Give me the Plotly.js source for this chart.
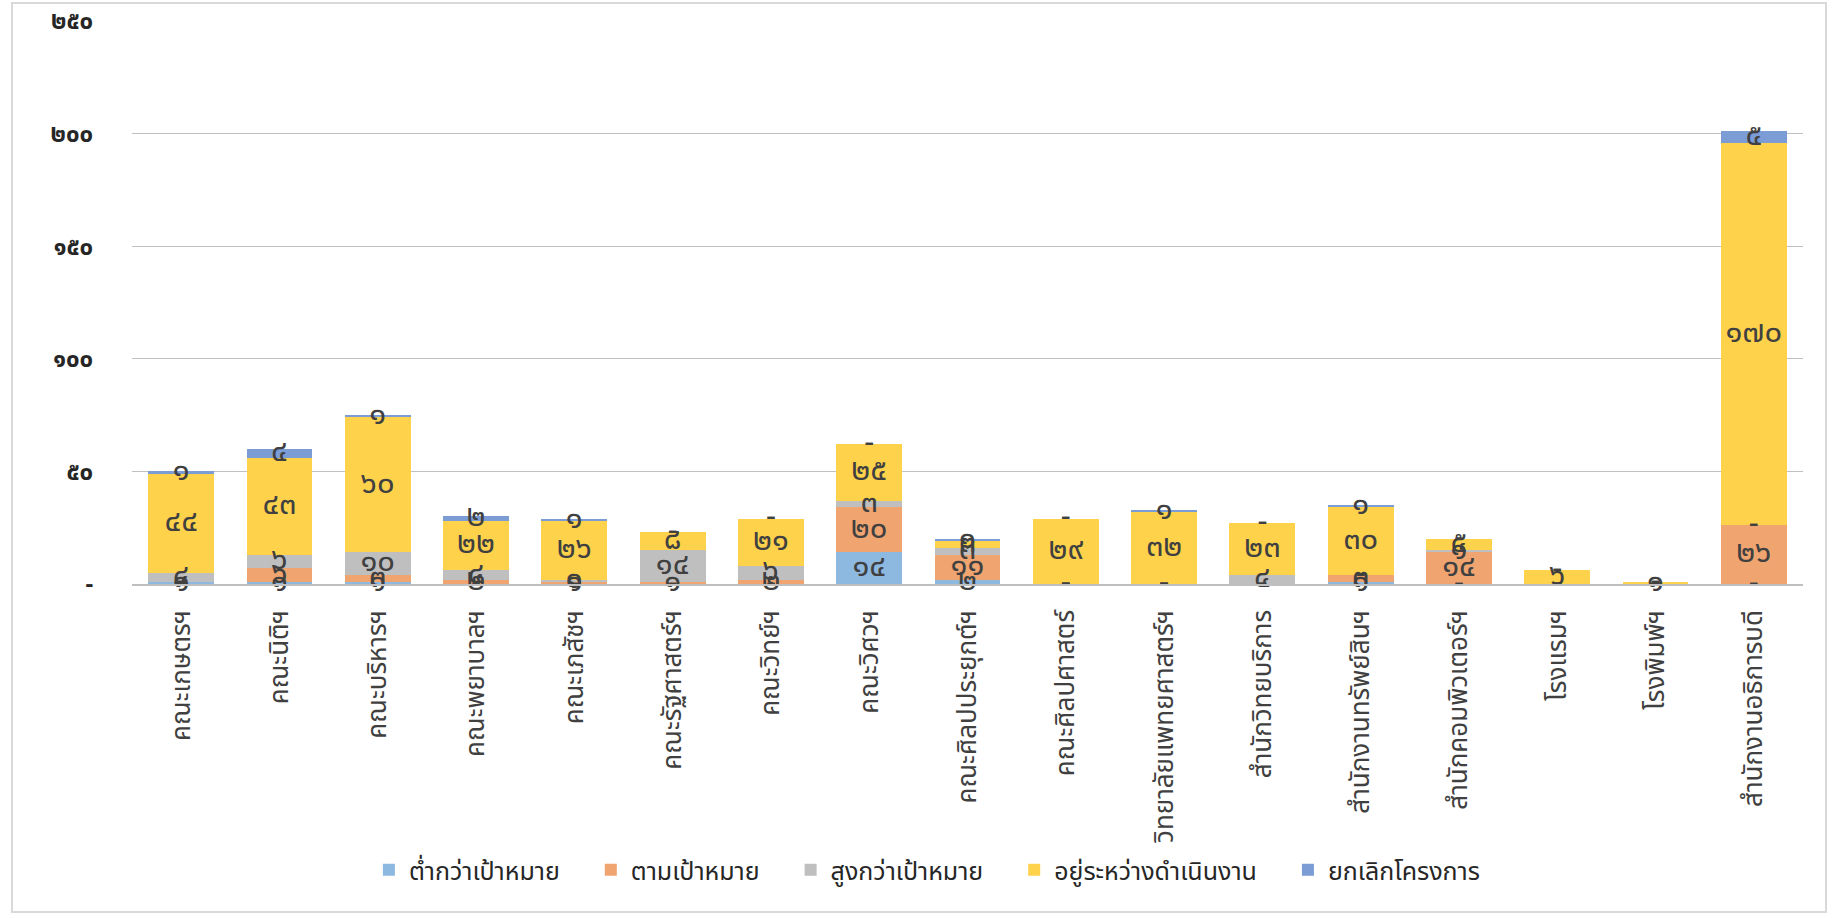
<!DOCTYPE html>
<html><head><meta charset="utf-8">
<script src="https://cdn.plot.ly/plotly-3.0.1.min.js"></script>
<style>
html,body{margin:0;padding:0;background:#fff;}
#frame{position:absolute;left:11px;top:2px;width:1816px;height:911px;border:2px solid #D9D9D9;box-sizing:border-box;}
#chart{position:absolute;left:0;top:0;width:1812px;height:907px;}
</style></head><body>
<div id="frame"><div id="chart"></div></div>
<script>
const categories = ['คณะเกษตรฯ','คณะนิติฯ','คณะบริหารฯ','คณะพยาบาลฯ','คณะเภสัชฯ','คณะรัฐศาสตร์ฯ','คณะวิทย์ฯ','คณะวิศวฯ','คณะศิลปประยุกต์ฯ','คณะศิลปศาสตร์','วิทยาลัยแพทยศาสตร์ฯ','สำนักวิทยบริการ','สำนักงานทรัพย์สินฯ','สำนักคอมพิวเตอร์ฯ','โรงแรมฯ','โรงพิมพ์ฯ','สำนักงานอธิการบดี'];
const belowTarget = [1,1,1,0,0,0,0,14,2,0,0,0,1,0,0,0,0];
const onTarget    = [0,6,3,2,1,1,2,20,11,0,0,0,3,14,0,0,26];
const aboveTarget = [4,6,10,4,1,14,6,3,3,0,0,4,0,1,0,0,0];
const inProgress  = [44,43,60,22,26,8,21,25,3,29,32,23,30,5,6,1,170];
const cancelled   = [1,4,1,2,1,0,0,0,1,0,1,0,1,0,0,0,5];
const seriesNames = ['ต่ำกว่าเป้าหมาย','ตามเป้าหมาย','สูงกว่าเป้าหมาย','อยู่ระหว่างดำเนินงาน','ยกเลิกโครงการ'];
const seriesColors = ['#8DB8E0','#F0A470','#BFBFBF','#FFD24C','#7B9CD5'];
const yTickVals = [0,50,100,150,200,250];

const thaiDigits = '๐๑๒๓๔๕๖๗๘๙';
function toThai(n){ return n === 0 ? '-' : String(n).replace(/[0-9]/g, d => thaiDigits[+d]); }

const FONT = 'Noto Sans Thai, Noto Sans, DejaVu Sans, sans-serif';
const PAD = '\u00A0\u00A0\u00A0\u00A0';
const series = [belowTarget, onTarget, aboveTarget, inProgress, cancelled];
const traces = [];
const base = categories.map(() => 0);
const labelTraces = [];
series.forEach((vals, k) => {
  traces.push({
    type:'bar', name: seriesNames[k] + (k < series.length - 1 ? PAD : ''), x: categories, y: vals,
    marker:{color: seriesColors[k], line:{width:0}},
    hoverinfo:'skip'
  });
  labelTraces.push({
    type:'scatter', mode:'text', x: categories,
    y: vals.map((v,i) => base[i] + v/2),
    text: vals.map(toThai),
    textposition:'middle center',
    textfont:{family: FONT, size: 31, color:'#404040'},
    showlegend:false, hoverinfo:'skip', cliponaxis:false
  });
  vals.forEach((v,i) => base[i] += v);
});

const layout = {
  width:1812, height:907,
  margin:{l:119, r:22, t:17, b:327},
  paper_bgcolor:'#fff', plot_bgcolor:'#fff',
  barmode:'stack', bargap:0.33,
  font:{family: FONT, color:'#404040'},
  showlegend:true,
  legend:{orientation:'h', x:0.476, xanchor:'center', y:-0.508, yanchor:'middle', bgcolor:'rgba(0,0,0,0)',
          font:{family: FONT, size:25, color:'#262626'}, traceorder:'normal'},
  xaxis:{type:'category', range:[-0.5, categories.length - 0.5], tickangle:-90, ticklabelstandoff:14,
         tickfont:{family: FONT, size:26, color:'#404040'}, automargin:false,
         showline:true, linecolor:'#BFBFBF', linewidth:1.5, showgrid:false, zeroline:false, ticks:''},
  yaxis:{range:[0,250], tickvals: yTickVals, ticktext: yTickVals.map(toThai), automargin:false,
         tickfont:{family: FONT, size:24, color:'#262626', weight:'bold'},
         ticks:'outside', ticklen:33, tickcolor:'rgba(0,0,0,0)',
         showgrid:true, gridcolor:'#C0C0C0', gridwidth:1.3, zeroline:false, showline:false}
};

Plotly.newPlot('chart', traces.concat(labelTraces), layout, {displayModeBar:false, staticPlot:true});
</script>
</body></html>
